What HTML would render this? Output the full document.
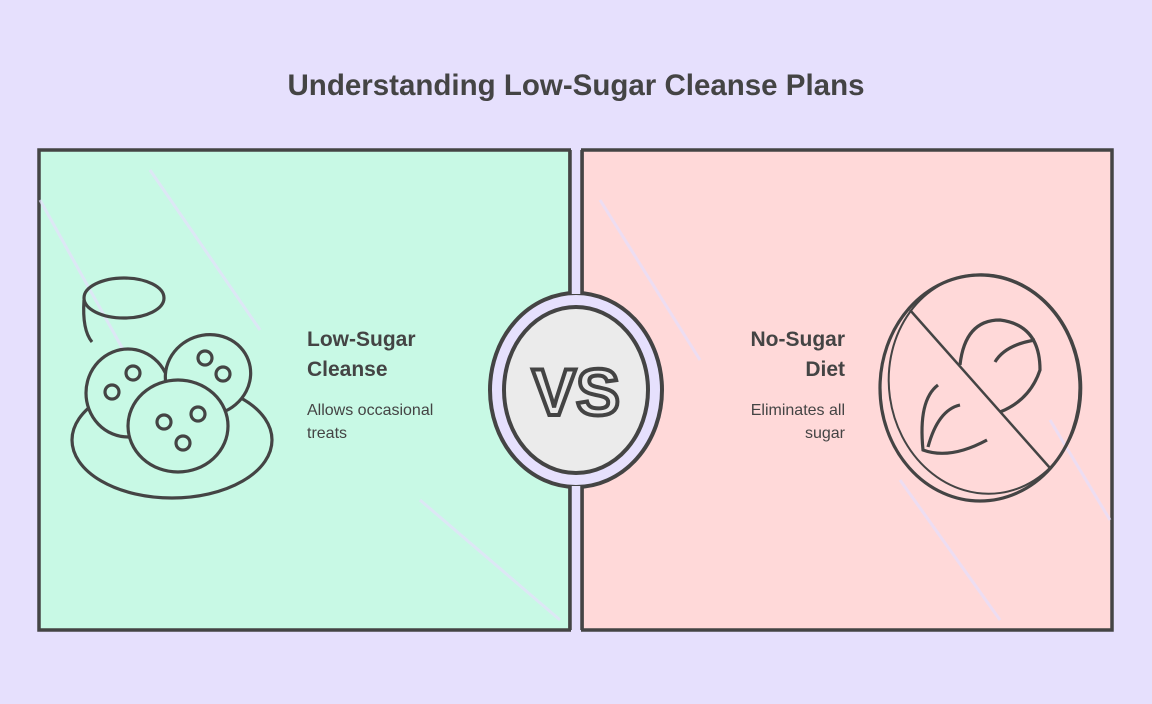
<!DOCTYPE html>
<html><head><style>
body{margin:0;width:1152px;height:704px;background:#e6e0fd;overflow:hidden;font-family:"Liberation Sans",sans-serif}
</style></head><body>
<svg width="1152" height="704" xmlns="http://www.w3.org/2000/svg" style="display:block">
<rect width="1152" height="704" fill="#e6e0fd"/>
<text x="576" y="95" text-anchor="middle" font-family="Liberation Sans, sans-serif" font-weight="bold" font-size="29.5" fill="#444">Understanding Low-Sugar Cleanse Plans</text>
<rect x="39" y="150" width="531" height="480" fill="#c8f9e5" stroke="#444" stroke-width="3.5"/>
<rect x="582" y="150" width="530" height="480" fill="#ffd9d9" stroke="#444" stroke-width="3.5"/>
<g stroke="#e6e0fd" stroke-width="3" opacity="0.7">
<line x1="40" y1="200" x2="140" y2="380"/><line x1="150" y1="170" x2="260" y2="330"/><line x1="420" y1="500" x2="560" y2="620"/>
<line x1="600" y1="200" x2="700" y2="360"/><line x1="1050" y1="420" x2="1110" y2="520"/><line x1="900" y1="480" x2="1000" y2="620"/>
</g>
<ellipse cx="576" cy="390" rx="86" ry="97" fill="#e6e0fd" stroke="#444" stroke-width="4"/>
<rect x="571" y="148" width="10" height="146" fill="#e6e0fd"/>
<rect x="571" y="486" width="10" height="146" fill="#e6e0fd"/>
<line x1="570" y1="150" x2="570" y2="294" stroke="#444" stroke-width="3.5"/>
<line x1="582" y1="150" x2="582" y2="294" stroke="#444" stroke-width="3.5"/>
<line x1="570" y1="486" x2="570" y2="630" stroke="#444" stroke-width="3.5"/>
<line x1="582" y1="486" x2="582" y2="630" stroke="#444" stroke-width="3.5"/>
<ellipse cx="576" cy="390" rx="72" ry="83" fill="#ebebeb" stroke="#444" stroke-width="4"/>
<text x="576" y="415" text-anchor="middle" font-family="Liberation Sans, sans-serif" font-weight="bold" font-size="66" fill="#ebebeb" stroke="#444" stroke-width="4">VS</text>
<g fill="none" stroke="#444" stroke-width="3.2">
<ellipse cx="124" cy="298" rx="40" ry="20"/>
<path d="M84 300 Q82 330 92 342"/>
<ellipse cx="172" cy="440" rx="100" ry="58"/>
<ellipse cx="128" cy="393" rx="42" ry="44" fill="#c8f9e5"/>
<ellipse cx="208" cy="375" rx="43" ry="40" fill="#c8f9e5" transform="rotate(-20 208 375)"/>
<ellipse cx="178" cy="426" rx="50" ry="46" fill="#c8f9e5"/>
<circle cx="112" cy="392" r="7"/><circle cx="133" cy="373" r="7"/>
<circle cx="205" cy="358" r="7"/><circle cx="223" cy="374" r="7"/>
<circle cx="164" cy="422" r="7"/><circle cx="198" cy="414" r="7"/><circle cx="183" cy="443" r="7"/>
</g>
<g font-family="Liberation Sans, sans-serif" fill="#444">
<text x="307" y="346" font-weight="bold" font-size="21">Low-Sugar</text>
<text x="307" y="376" font-weight="bold" font-size="21">Cleanse</text>
<text x="307" y="415" font-size="16">Allows occasional</text>
<text x="307" y="438" font-size="16">treats</text>
<text x="845" y="346" font-weight="bold" font-size="21" text-anchor="end">No-Sugar</text>
<text x="845" y="376" font-weight="bold" font-size="21" text-anchor="end">Diet</text>
<text x="845" y="415" font-size="16" text-anchor="end">Eliminates all</text>
<text x="845" y="438" font-size="16" text-anchor="end">sugar</text>
</g>
<g fill="none" stroke="#444" stroke-width="3.2">
<ellipse cx="980" cy="388" rx="100" ry="113"/>
<ellipse cx="985" cy="384" rx="96" ry="110" transform="rotate(-8 985 384)" stroke-width="2"/>
<line x1="910" y1="310" x2="1050" y2="468" stroke-width="2.5"/>
<path d="M960 365 Q965 320 1000 320 Q1040 325 1040 370 Q1030 400 1000 412"/>
<path d="M995 362 Q1005 345 1035 340"/>
<path d="M938 385 Q918 400 923 450 Q950 460 987 440"/>
<path d="M928 447 Q938 410 960 405"/>
</g>
</svg>
</body></html>
